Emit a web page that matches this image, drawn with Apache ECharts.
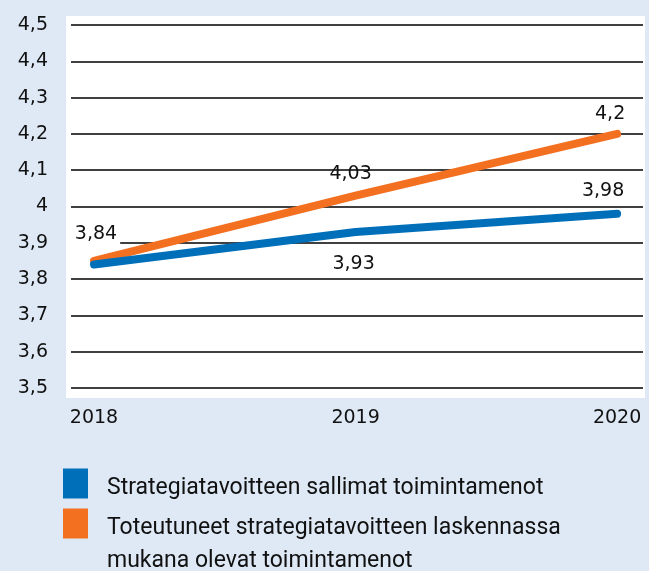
<!DOCTYPE html>
<html>
<head>
<meta charset="utf-8">
<script src="https://cdn.jsdelivr.net/npm/echarts@6/dist/echarts.min.js"></script>
<style>
  html, body { margin: 0; padding: 0; background: #dee9f5; }
  #chart { width: 649px; height: 571px; }
</style>
</head>
<body>
<div id="chart"></div>
<script>
// ---- data ----
const years = [2018, 2019, 2020];
const blueValues = [3.84, 3.93, 3.98];
const orangeValues = [3.85, 4.03, 4.2];
const yTicks = [3.5, 3.6, 3.7, 3.8, 3.9, 4.0, 4.1, 4.2, 4.3, 4.4, 4.5];
const blueName = 'Strategiatavoitteen sallimat toimintamenot';
const orangeName = 'Toteutuneet strategiatavoitteen laskennassa\nmukana olevat toimintamenot';

// ---- styling ----
const BLUE = '#006fba';
const ORANGE = '#f37021';
const NUM_FONT = "'DejaVu Sans', Roboto";
const LEG_FONT = "'Liberation Sans Narrow', Roboto, 'DejaVu Sans'";
const fmt = v => String(+(+v).toFixed(2)).replace('.', ',');

const blueLabels = [
  { show: true, position: 'top', distance: 17, backgroundColor: '#fff', padding: [2, 3, 4, 7], offset: [0, 0] },
  { show: true, position: 'bottom', distance: 22, offset: [-2, 0] },
  { show: true, position: 'top', distance: 13, offset: [-14, 0] }
];
const orangeLabels = [
  { show: false },
  { show: true, position: 'top', distance: 12, offset: [-5, 0] },
  { show: true, position: 'top', distance: 10, offset: [-7, 0] }
];

const labelBase = { color: '#111', fontFamily: NUM_FONT, fontSize: 19, formatter: p => fmt(p.value[1]) };
const legText = (spacer) => ({
  color: '#111', fontFamily: LEG_FONT, fontSize: 23, lineHeight: 33, padding: [0, 0, 0, 14],
  rich: {
    s: { fontSize: 10, lineHeight: spacer, fontFamily: LEG_FONT },
    t: { color: '#111', fontFamily: LEG_FONT, fontSize: 23, lineHeight: 33 }
  }
});
const legFormat = name => '{s| }\n' + name.split('\n').map(l => '{t|' + l + '}').join('\n');

const chart = echarts.init(document.getElementById('chart'), null, { renderer: 'canvas' });
chart.setOption({
  backgroundColor: '#dee9f5',
  animation: false,
  graphic: [{
    type: 'rect', z: -10, silent: true,
    shape: { x: 66, y: 16, width: 579, height: 382 },
    style: { fill: '#ffffff' }
  }],
  grid: { left: 71, right: 6, top: 25, bottom: 183, containLabel: false },
  xAxis: {
    type: 'value',
    min: 2017.912, max: 2020.099,
    axisLine: { show: false },
    axisTick: { show: false },
    splitLine: { show: false },
    axisLabel: {
      customValues: years,
      formatter: v => String(v),
      color: '#111', fontFamily: NUM_FONT, fontSize: 19, margin: 21
    }
  },
  yAxis: {
    type: 'value',
    min: yTicks[0], max: yTicks[yTicks.length - 1], interval: 0.1,
    axisLine: { show: false },
    axisTick: { show: false },
    splitLine: { lineStyle: { color: '#000', width: 1.5 } },
    axisLabel: {
      formatter: v => String(+(+v).toFixed(1)).replace('.', ','),
      color: '#111', fontFamily: NUM_FONT, fontSize: 19, margin: 23
    }
  },
  legend: [
    {
      data: [{ name: blueName, icon: 'rect' }],
      formatter: legFormat,
      left: 63, top: 462, orient: 'vertical', padding: 0,
      itemWidth: 25, itemHeight: 30,
      selectedMode: false,
      textStyle: legText(10)
    },
    {
      data: [{ name: orangeName, icon: 'rect' }],
      formatter: legFormat,
      left: 63, top: 469, orient: 'vertical', padding: 0,
      itemWidth: 25, itemHeight: 30,
      selectedMode: false,
      textStyle: legText(43)
    }
  ],
  series: [
    {
      name: orangeName, type: 'line',
      data: years.map((y, i) => ({ value: [y, orangeValues[i]], label: orangeLabels[i] })),
      symbol: 'circle', symbolSize: 1, showSymbol: true,
      color: ORANGE,
      itemStyle: { color: ORANGE },
      lineStyle: { color: ORANGE, width: 8, cap: 'round' },
      label: labelBase,
      z: 3
    },
    {
      name: blueName, type: 'line',
      data: years.map((y, i) => ({ value: [y, blueValues[i]], label: blueLabels[i] })),
      symbol: 'circle', symbolSize: 1, showSymbol: true,
      color: BLUE,
      itemStyle: { color: BLUE },
      lineStyle: { color: BLUE, width: 8, cap: 'round' },
      label: labelBase,
      z: 4
    }
  ]
});
</script>
</body>
</html>
